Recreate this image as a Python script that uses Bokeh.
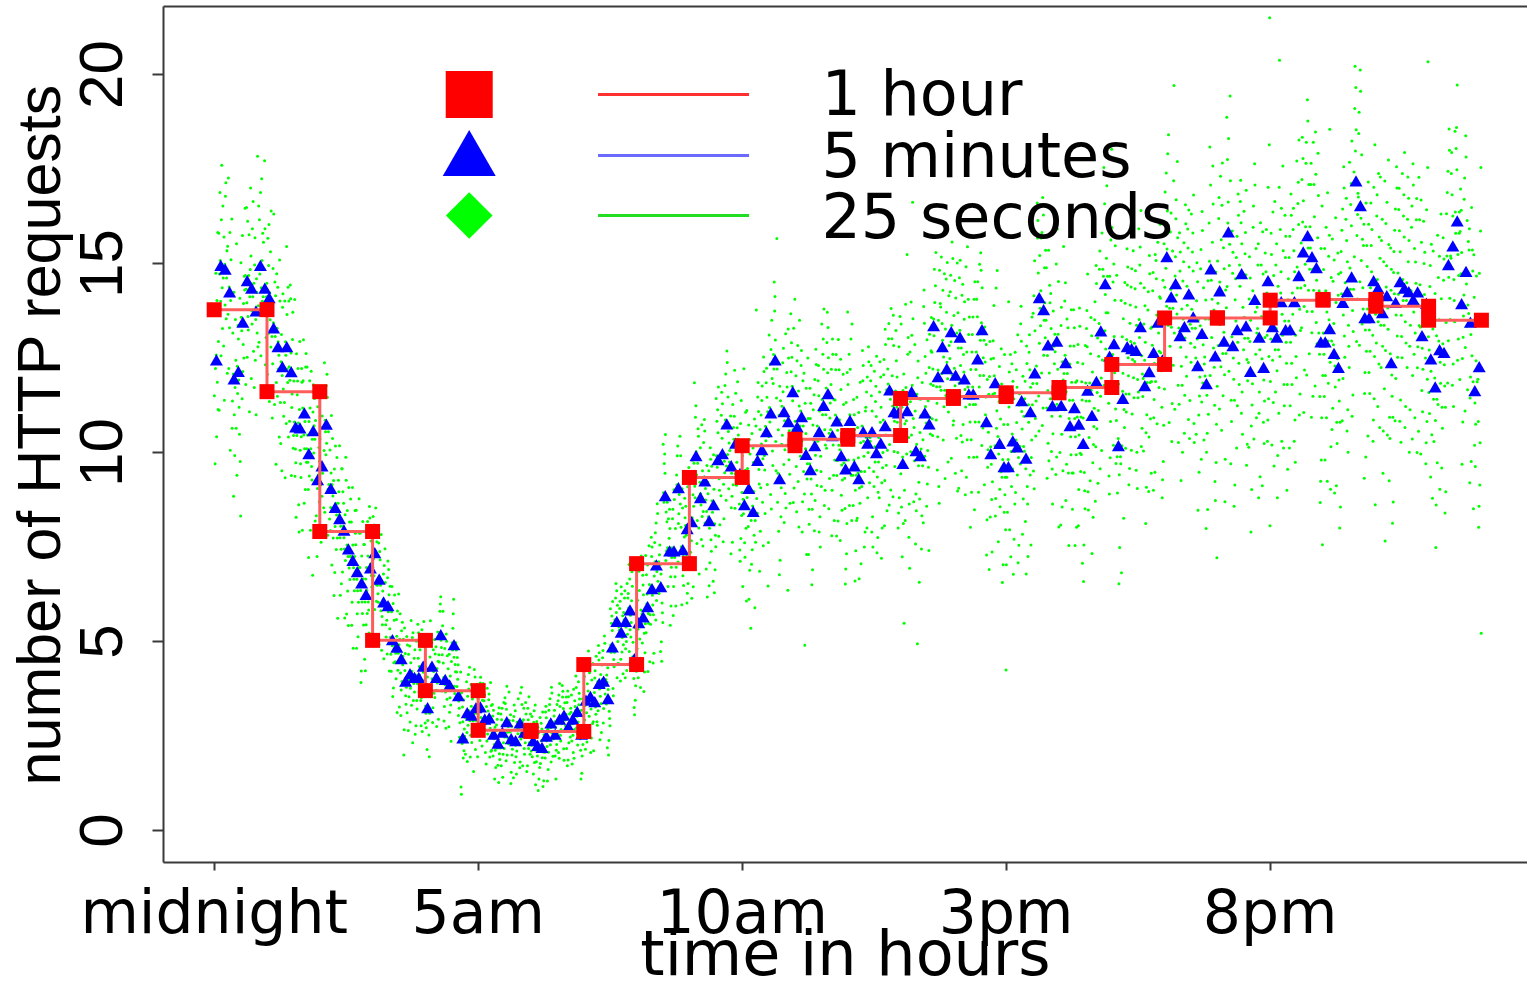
from bokeh.plotting import figure
from bokeh.models import Range1d, FixedTicker, LinearAxis
from bokeh.core.properties import value
from bokeh.embed import file_html
from bokeh.resources import INLINE

# ---------------- data ----------------
hourly_requests = [13.78, 11.61, 7.91, 5.03, 3.70, 2.65, 2.62, 4.39, 7.06, 9.34, 10.18, 10.35,
                   10.45, 11.43, 11.48, 11.58, 11.72, 12.33, 13.56, 13.56, 14.03, 14.05, 13.87, 13.50]

five_minute_requests = [
    [12.4, 14.9, 14.8, 14.2, 11.9, 12.1, 13.4, 14.5, 14.3, 13.7, 14.9, 14.3],          # 0h
    [14.05, 13.25, 12.75, 12.22, 12.75, 12.09, 10.63, 10.6, 11.0, 9.92, 10.53, 9.23],  # 1h
    [9.6, 10.7, 9.0, 8.5, 8.2, 7.9, 7.4, 7.1, 6.8, 6.5, 6.2, 6.9],                     # 2h
    [7.3, 6.6, 6.0, 5.9, 5.0, 4.8, 4.5, 3.9, 4.1, 4.0, 4.0, 4.3],                      # 3h
    [3.2, 4.3, 4.0, 5.13, 3.95, 3.8, 4.87, 3.52, 2.4, 3.07, 3.0, 3.2],                 # 4h
    [3.22, 2.9, 2.93, 2.5, 2.26, 2.55, 2.83, 2.38, 2.33, 2.8, 2.55, 2.55],             # 5h
    [2.33, 2.2, 2.15, 2.45, 2.8, 2.5, 2.9, 3.0, 2.7, 2.9, 3.1, 2.5],                   # 6h
    [3.4, 3.5, 3.36, 3.84, 3.9, 3.44, 4.81, 5.48, 5.2, 5.48, 5.79, 4.5],               # 7h
    [5.45, 5.6, 5.87, 6.35, 6.98, 6.40, 8.81, 7.35, 7.35, 9.02, 7.38, 7.94],           # 8h
    [8.12, 9.87, 8.76, 9.2, 8.15, 8.57, 9.76, 9.92, 10.71, 9.6, 10.2, 9.4],            # 9h
    [8.57, 9.0, 8.39, 9.74, 10.03, 10.5, 11.0, 12.4, 9.26, 11.03, 10.77, 11.56],       # 10h
    [10.63, 10.9, 9.9, 9.5, 10.13, 10.5, 11.2, 11.51, 10.4, 10.79, 9.87, 9.52],        # 11h
    [10.8, 9.6, 9.26, 10.5, 10.2, 10.5, 9.95, 10.2, 10.66, 11.61, 11.03, 11.0],        # 12h
    [9.66, 11.06, 11.56, 10.0, 9.87, 11.0, 10.71, 13.31, 11.96, 12.75, 12.17, 13.15],  # 13h
    [12.0, 13.0, 11.9, 11.5, 11.5, 12.43, 13.2, 10.77, 9.92, 11.8, 10.19, 9.58],       # 14h
    [9.58, 10.26, 10.1, 11.32, 9.8, 11.03, 12.06, 14.05, 13.73, 12.8, 11.19, 12.9],    # 15h
    [11.2, 12.33, 10.66, 11.14, 10.7, 10.19, 11.6, 10.93, 11.83, 13.17, 14.42, 12.5],  # 16h
    [12.83, 10.13, 11.38, 12.75, 12.7, 12.65, 13.28, 11.72, 12.09, 12.6, 13.4, 12.4],  # 17h
    [15.13, 14.07, 14.42, 13.04, 13.28, 14.15, 13.54, 12.25, 13.1, 11.77, 14.81, 12.51],  # 18h
    [14.23, 12.9, 15.79, 12.78, 13.2, 14.68, 13.3, 12.1, 14.0, 13.0, 12.2, 14.5],      # 19h
    [13.28, 13.0, 13.94, 13.2, 13.2, 13.94, 14.63, 15.26, 15.69, 15.13, 14.84, 12.88], # 20h
    [12.88, 13.23, 12.57, 12.2, 13.92, 14.21, 14.6, 17.14, 16.48, 13.52, 13.52, 14.5], # 21h
    [14.3, 13.65, 14.1, 12.33, 13.92, 14.47, 14.3, 14.21, 14.0, 14.2, 13.04, 13.9],    # 22h
    [12.43, 11.69, 12.67, 12.6, 14.92, 15.42, 16.08, 13.89, 14.74, 13.4, 11.59, 12.22],# 23h
]

# 25-second samples: half-width of the green cloud per hour, and each sample's
# position inside it typed as a letter (a = bottom edge, m/n = centre, z = top edge)
green_spread = [4.5, 4.5, 3.8, 2.8, 2.4, 1.9, 1.9, 2.4, 3.2, 3.8, 4.8, 5.0,
                5.0, 5.5, 5.8, 5.8, 6.0, 6.0, 6.3, 7.0, 7.0, 7.0, 7.0, 7.0]
green_samples = [
    "kqfmtnhrlwjopcmsnkgqulirmhpdnkstjmofqlvhnkrbmpgsjlqnetkhmrojwfnlqpmkisgcrnmhtjlokqpvnfmslhrkjnqdmoupglkrmtinhqsjmfpolyknrhqmjsgltnkpmqfowrhljmn",
    "mhrkpsfnlqjtomgkrnvlhqmpeksojrnlmgtqkhnpfmrsljokqdnmhuplkrgqnjmtsofklprhmqnwjlkgsmpqrnhfotlkjmrqenpslgkmhqrjntomkfplsqhnrkjmcoqlnpmgrtkjhmsqnplo",
    "pnlgqkrmhtjosfnmkqlrpdhmnskqjlotgnrmkpfqhlsnjmrkeoqpntlgmkhrsjqnpmlfoktrhnqjmgslpkmrnqhjtofmlknrqpsgmjlhkntqormefplksnjqrhmgokpnltqmjhsrknpmlgq",
    "lrmkqgnpsjhomtlkrfnqpmjshlkonqgrmtpkjnlhqsmrofkpnljqtmgrhkpsnlmjqofrkmtnhpslgjqkrmnpehtoqlkmsjrngpkmqhlotjnrfskmplqgnhrkjmtpslonqmkhjrfpnmslqkg",
    "nmkqhrlpsjgmotknrqlfhpmjskqnrlgomtphkjnqrsmlfkoqpnhjrmlgtskqnpmhrjlokfqsnmprtlhgkjnmqosprkmlhjnqgftmrpkslonqhmjrkgplsqntmhkrojlpqmfnskrhjlmqpgo",
    "qkmnhrsljpgomtkqnrlhmfpjskonqrmglthpknsqjrmlfokhpqnrmjsgtlkmnqhprofjlskmrqngpthlkmjsqnorfhpklmqgrtjnsmkhlqpornmjfgskltqnhmprkjolsqmgnhrpktlmjqn",
    "lmrkpnhqsjotgmkrnlqfphmjsknroqltgmhpnkjrsqmlfohkpnqrjmgtslkhnmqrpjofklsnmqhrgtpkjlnmsqrohfkpmlnqjrgthskmpnlqorjfmkhsglqpntrkmjhlsoqpnmkfrgjtlnq",
    "nqkmgrslhpjotmkqnrflhpmjskgnoqrmltpkhnjsqrmflokgpnqrhjmtslknmqpgrofhlkjsnmqrpthglkmnjqsorfpkhlmnqrgjtskmphlonqrfjmkgslqpnthrkmjlosqnpmkgfrhjtl",
    "rkpmhnsqljgotmnkrqpflhjmskqnorgmltphkjnsqrmlfkgopnqhrjmtslknmqrpgohflkjsnmqrptglhkmnjqsorpfkhlmnqrgjtsmkphlonqrfjkmgslqpnhtrkmjlosqnpmkfgrhjtm",
    "mjrkqlgnsphomtkjqrnlfhmpskgqornmjtlphkqnsrjmlfkogqpnrhmjtslkqnmpgroflhkjsnqmrptglkhnmjqsorpfkhmlqnrgjtskpmhlnoqrfjmkgslqnpthkrmjlosnqpmkgfrhtjl",
    "qhnmwrkjptlgsmonkrfqhpldmjsknrqoltgmhpxknjrsqmlfohkpnqrjmgtslkhnmqrpjocflsnmqhrgtpkjlnmsqrohfkvmlnqjrgthskmpnlqorjfmkhsglqpnbtrkmjhlsoqpnmkfrgjt",
    "nlqkhrmsjpgotmknqrlfhpmjskaqnorglmtphkjnsqrmlfkgopnqhrjmtslknmqrpgohflkjsnmqrptglhkmnjqsorpfkhlmnqrgjtsmkphlonqrfjkmgslqpnhtrkmjlosqnpmkfgrhjtx",
    "pkmrhnqlsjgtomkrnqpflhmjskqnorgmltphkjnsqrmlfkgopnqhrjmtslknmqrpgohflkjsnmqrptglhkmnjqsorpfkhlmnqrgjtsmkphlonqrfjkmgslqpnhtrkmjlosqnpmkfgrhjtl",
    "mvkqhnrjsdlpgtomkwnqrlfhcpmjskqnyrlgomtphkjnqbrsmlfkoqpnhjrmlgtuskqnpmhrjlokfqsnmprtlhgkjnmqosprkmlhjnqgftmrpkslonqhmjrkgplsqntmhkrojlpqmfnskrh",
    "kqnsmhrljptgomekqnrlhmfpjskonqrmglthpkvnsqjrmlfokhpqnrmjsgtlkmnqhprofjlskmrqngpthlkmjsqnorfhpklmqgrtjnsmkhlqpornmjfgskltqnhmprkjolsqmgnhrpktlmjb",
    "hmrkpnwqsjotgmkrnlqfphmjsknroqltgmhpnkjrsqmlfohkpnqrjmgtslkhnmqrpjofklsnmqhrgtpkjlnmsqrohfkpmlnqjrgthskmpnlqorjfmkhsglqpntrkmjhlsoqpnmkfrgjtlnqc",
    "nqkmgrslhpjotmkqnrflhpmjskgnoqrmltpkhnjsqrmflokgpnqrhjmtslknmqpgrofhlkjsnmqrpthglkmnjqsorfpkhlmnqrgjtskmphlonqrfjmkgslqpnthrkmjlosqnpmkgfrhjtly",
    "tkmqhrnlpsjgowmkrnqflhpmjsdkqnorgmltphkjnsqrmlfkgopnqhrjmtslknmqrpgohflkjsnmqrptglhkmnjqsorpfkhlmnqrgjtsmkphlonqrfjkmgslqpnhtrkmjlosqnpmkfgrhjtl",
    "lqhmrknpsjtogmkqnrlfhpmjsxkgnoqrmltpkhnjsqrmflokgpnqrhjmtslknmqpgrofhlkjsnmqrpthglkmnjqsorfpkhlmnqrgjtskmphlonqrfjmkgslqpnthrkmjlosqnpmkgfrhjcl",
    "omkqrhnlsjpgtvmkrnqlfhpmjskqnorglmtphkjnsqrmlfkgopnqhrjmtslknmqrpgohflkjsnmqrptglhkmnjqsorpfkhlmnqrgjtsmkphlonqrfjkmgslqpnhtrkmjlosqnpmkfgrhjtzb",
    "kmrqhnlsjpgotmkqnrlfhpmjsykqnorgmltphkjnsqrmlfkgopnqhrjmtslknmqrpgohflkjsnmqrptglhkmnjqsorpfkhlmnqrgjtsmkphlonqrfjkmgslqpnhtrkmjlosqnpmkfgrhjtdl",
    "nqmkrhlpsjogtmkqnrwlfhpmjskqnorgmltphkjnsqrmlfkgopnqhrjmtslknmqrpgohflkjsnmqrptglhkmnjqsorpfkhlmnqrgjtsmkphlonqrfjkmgslqpnhtrkmjlosqnpmkfgrhjtcl",
    "mkqrnhlsjpgotmkqnrlfhpmjsbkqnorgmltphkjnsqrmlfkgopnqhrjmtslknmqrpgohflkjsnmqrptglhkmnjqsorpfkhlmnqrgjtsmkphlonqrfjkmgslqpnhtrkmjlosqnpmkfgrhjtyl",
    "lnkqrhmsjpgotmkqnrlfhpmjskqnorgmltphkjnsqrmlfkgopnqhrjmtslknmqrpgohflkjsnmqrptglhkmnjqsorpfkhlmnqrgjtsmkphlonqrfjkmgslqpnhtrkmjlosqnpmkfgrhjtwa",
]

x_tick_hours = [0, 5, 10, 15, 20]
x_tick_labels = ["midnight", "5am", "10am", "3pm", "8pm"]
y_ticks = [0, 5, 10, 15, 20]
legend_labels = ["1 hour", "5 minutes", "25 seconds"]
x_title = "time in hours"
y_title = "number of HTTP requests"

# ---------------- derived point lists ----------------
step_x, step_y = [], []
for h, v in enumerate(hourly_requests):
    step_x += [h, h + 1]
    step_y += [v, v]

tri_x, tri_y = [], []
for h, vals in enumerate(five_minute_requests):
    for k, v in enumerate(vals):
        tri_x.append(h + (k + 0.5) / 12.0)
        tri_y.append(v)

grn_x, grn_y = [], []
for h, s in enumerate(green_samples):
    n = len(s)
    for j, c in enumerate(s):
        k = min(11, j * 12 // n)
        base = five_minute_requests[h][k]
        off = (ord(c) - ord('a') - 12.5) / 12.5 * green_spread[h]
        grn_x.append(h + (j + 0.5) / n)
        grn_y.append(base + off)

# ---------------- figure ----------------
AXC = "#3a3a3a"
p = figure(width=1527, height=995, output_backend="svg", toolbar_location=None,
           x_range=Range1d(-0.96, 24.873), y_range=Range1d(-0.847, 21.80),
           min_border_left=163, min_border_right=0, min_border_top=6, min_border_bottom=133)
p.outline_line_color = None
p.background_fill_color = "white"
p.border_fill_color = "white"
p.xgrid.visible = False
p.ygrid.visible = False

xa = p.below[0]
ya = p.left[0]

top_axis = LinearAxis(ticker=FixedTicker(ticks=[]), major_label_text_font_size="0px",
                      major_tick_out=0, major_tick_in=0, minor_tick_out=0, minor_tick_in=0,
                      major_label_standoff=0, axis_line_color=AXC, axis_line_width=2)
p.add_layout(top_axis, "above")

xa.ticker = FixedTicker(ticks=x_tick_hours)
xa.major_label_overrides = {t: lab for t, lab in zip(x_tick_hours, x_tick_labels)}
xa.major_label_text_font = "DejaVu Sans"
xa.major_label_text_font_size = "60px"
xa.major_label_text_color = "black"
xa.major_label_standoff = 6
xa.major_tick_out = 8
xa.major_tick_in = 0
xa.minor_tick_out = 0
xa.minor_tick_in = 0
xa.axis_line_color = AXC
xa.axis_line_width = 2
xa.major_tick_line_color = AXC
xa.major_tick_line_width = 2
xa.axis_label = x_title
xa.axis_label_text_font = "DejaVu Sans"
xa.axis_label_text_font_size = "62px"
xa.axis_label_text_font_style = "normal"
xa.axis_label_text_color = "black"
xa.axis_label_standoff = -33

ya.ticker = FixedTicker(ticks=y_ticks)
ya.major_label_orientation = "vertical"
ya.major_label_text_font = "Liberation Sans"
ya.major_label_text_font_size = "62px"
ya.major_label_text_color = "black"
ya.major_label_standoff = 30
ya.major_tick_out = 11
ya.major_tick_in = 0
ya.minor_tick_out = 0
ya.minor_tick_in = 0
ya.axis_line_color = AXC
ya.axis_line_width = 2
ya.major_tick_line_color = AXC
ya.major_tick_line_width = 2
ya.axis_label = y_title
ya.axis_label_text_font = "Liberation Sans"
ya.axis_label_text_font_size = "61px"
ya.axis_label_text_font_style = "normal"
ya.axis_label_text_color = "black"
ya.axis_label_standoff = 5

# data layers
p.scatter(grn_x, grn_y, marker="circle", size=3, fill_color="#00ff00", line_color=None)
p.scatter(tri_x, tri_y, marker="triangle", size=13, fill_color="#0000ff", line_color=None)
p.line(step_x, step_y, line_color="#ff5c5c", line_width=3)
p.scatter(step_x, step_y, marker="square", size=15, fill_color="#ff0000", line_color=None)

# legend (manual, R style)
leg_marker_x = 4.83
leg_y = [19.47, 17.72, 16.27]
leg_line_x0, leg_line_x1 = 7.27, 10.13
leg_line_y = [19.47, 17.86, 16.27]
leg_text_x = 11.50
leg_text_y = [19.50, 17.86, 16.24]

p.scatter([leg_marker_x], [leg_y[0]], marker="square", size=47, fill_color="#ff0000", line_color=None)
p.scatter([leg_marker_x], [leg_y[1]], marker="triangle", size=53, fill_color="#0000ff", line_color=None)
p.scatter([leg_marker_x], [leg_y[2]], marker="square", size=33, angle=0.7853981634,
          fill_color="#00ff00", line_color=None)
p.segment(x0=[leg_line_x0] * 3, y0=leg_line_y, x1=[leg_line_x1] * 3, y1=leg_line_y,
          line_color=["#ff3030", "#6a6aff", "#22dd22"], line_width=3)
p.text(x=[leg_text_x] * 3, y=leg_text_y, text=legend_labels,
       text_font=value("DejaVu Sans"), text_font_size="62px",
       text_align="left", text_baseline="alphabetic", text_color="black")

open("out.html", "w").write(file_html(p, INLINE))
